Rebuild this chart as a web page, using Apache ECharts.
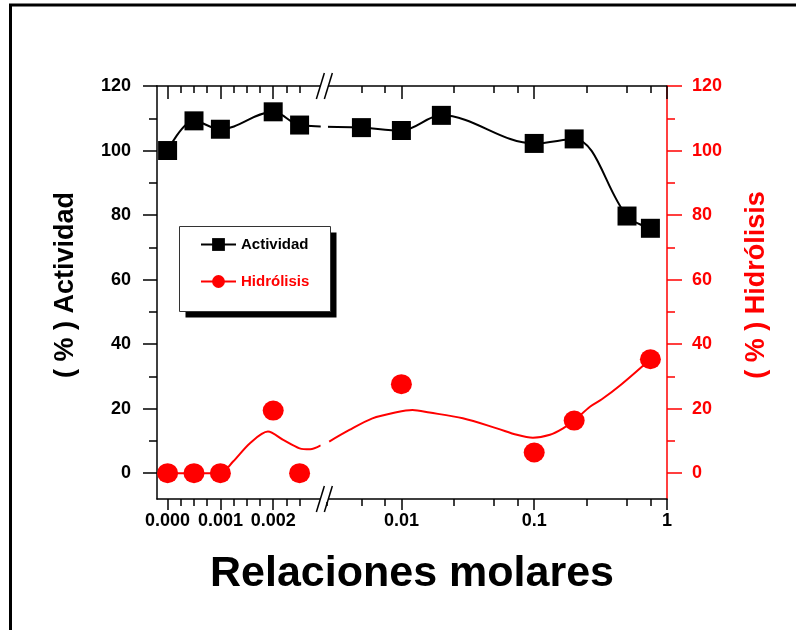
<!DOCTYPE html>
<html>
<head>
<meta charset="utf-8">
<script src="https://cdn.jsdelivr.net/npm/echarts@6/dist/echarts.min.js"></script>
<style>
  html, body { margin: 0; padding: 0; background: #fff; }
  #chart { width: 796px; height: 630px; }
</style>
</head>
<body>
<div id="chart"></div>
<script>
// Molar ratios tested and the measured responses
const ratios     = [0, 0.0005, 0.001, 0.002, 0.0025, 0.005, 0.01, 0.02, 0.1, 0.2, 0.5, 0.75];
const actividad  = [100, 109.2, 106.6, 112, 107.9, 107.1, 106.2, 110.9, 102.2, 103.6, 79.7, 75.9];
const hidrolisis = [0, 0, 0, 19.4, 0, null, 27.6, null, 6.4, 16.3, null, 35.3];

// Smoothed hydrolysis trend, one piece on each side of the axis break
const trendLinear = [[0, 0], [0.0005, 0], [0.001, 0], [0.00124, 3.6], [0.00156, 9.3], [0.0019, 12.9],
                     [0.00219, 10.3], [0.0025, 7.7], [0.0027, 7.4], [0.0029, 8.6]];
const trendLog = [[0.00286, 9.8], [0.00406, 13.4], [0.00605, 17.0], [0.00918, 18.9], [0.0121, 19.6],
                  [0.0163, 18.8], [0.029, 17.0], [0.0523, 13.9], [0.074, 11.9], [0.0978, 11.0],
                  [0.1315, 11.9], [0.165, 13.9], [0.2, 16.3], [0.263, 20.6], [0.323, 22.9],
                  [0.45, 27.4], [0.75, 35.3]];

// Axis ticks
const xMajorLabels = ['0.000', '0.001', '0.002', '0.01', '0.1', '1'];
const xMajorValues = [0, 0.001, 0.002, 0.01, 0.1, 1];
const xMinorValues = [0.00025, 0.0005, 0.00075, 0.00125, 0.0015, 0.00175, 0.00225, 0.0025, 0.00275,
                      0.005, 0.0075, 0.025, 0.05, 0.075, 0.25, 0.5, 0.75];
const yMajorValues = [0, 20, 40, 60, 80, 100, 120];
const yMinorValues = [10, 30, 50, 70, 90, 110];

// Broken x axis: a linear piece up to the break, then a log10 piece up to 1.
const AXIS_LEN = 510;
const LIN_OFFSET = 10.6, LIN_SCALE = 52800;   // linear piece
const DECADE = 132.8;                          // log piece, axis units per decade
const LIN_END = 0.0029, LOG_START = 0.0028;    // where each piece is cut at the break
function toAxis(x, piece) {
  piece = piece || (x <= 0.0025 ? 'lin' : 'log');
  return piece === 'lin' ? LIN_OFFSET + x * LIN_SCALE : AXIS_LEN + DECADE * Math.log10(x);
}
const xMajorPos = xMajorValues.map(v => toAxis(v));
const xMinorPos = xMinorValues.map(v => toAxis(v));
function xLabel(u) {
  let best = 0;
  xMajorPos.forEach((p, i) => { if (Math.abs(p - u) < Math.abs(xMajorPos[best] - u)) best = i; });
  return xMajorLabels[best];
}

const FONT = 'Liberation Sans, Arial, sans-serif';
const RED = '#ff0000';
const tickFont = { fontFamily: FONT, fontWeight: 'bold', fontSize: 18 };

const chart = echarts.init(document.getElementById('chart'), null, { renderer: 'canvas' });

function xAxisDef(position, values, len, inside, showLine, opts) {
  return Object.assign({
    type: 'value', position: position, min: 0, max: AXIS_LEN, gridIndex: 0, offset: 0,
    axisLine: { show: showLine, onZero: false, lineStyle: { color: '#000', width: 1.5 } },
    axisTick: { show: true, inside: inside, length: len, customValues: values, lineStyle: { color: '#000', width: 1.5 } },
    axisLabel: { show: false },
    splitLine: { show: false }
  }, opts || {});
}
function yAxisDef(position, values, len, color, showLine, opts) {
  return Object.assign({
    type: 'value', position: position, min: -8, max: 120, gridIndex: 0, offset: 0,
    axisLine: { show: showLine, onZero: false, lineStyle: { color: color, width: 1.5 } },
    axisTick: { show: true, inside: false, length: len, customValues: values, lineStyle: { color: color, width: 1.5 } },
    axisLabel: { show: false },
    splitLine: { show: false }
  }, opts || {});
}

const option = {
  backgroundColor: '#fff',
  animation: false,
  grid: { left: 157, top: 86, right: 129, bottom: 131, containLabel: false },
  xAxis: [
    xAxisDef('bottom', xMajorPos, 11, false, true, {
      axisLabel: Object.assign({ show: true, customValues: xMajorPos, margin: 13, color: '#000',
                                 formatter: v => xLabel(v) }, tickFont),
      name: 'Relaciones molares', nameLocation: 'middle', nameGap: 54,
      nameTextStyle: { fontFamily: FONT, fontWeight: 'bold', fontSize: 43, color: '#000' }
    }),
    xAxisDef('bottom', xMinorPos, 7, false, false),
    xAxisDef('top', xMajorPos, 13, true, true),
    xAxisDef('top', xMinorPos, 7, true, false)
  ],
  yAxis: [
    yAxisDef('left', yMajorValues, 14, '#000', true, {
      axisLabel: Object.assign({ show: true, customValues: yMajorValues, margin: 26, color: '#000' }, tickFont),
      name: '( % ) Actividad', nameLocation: 'middle', nameGap: 78, nameRotate: 90,
      nameTextStyle: { fontFamily: FONT, fontWeight: 'bold', fontSize: 27, color: '#000', padding: [0, 0, 0, 15] }
    }),
    yAxisDef('left', yMinorValues, 8, '#000', false),
    yAxisDef('right', yMajorValues, 15, RED, true, {
      axisLabel: Object.assign({ show: true, customValues: yMajorValues, margin: 25, color: RED }, tickFont),
      name: '( % ) Hidrólisis', nameLocation: 'middle', nameGap: 76, nameRotate: 90,
      nameTextStyle: { fontFamily: FONT, fontWeight: 'bold', fontSize: 27, color: RED, padding: [0, 0, 0, 15] }
    }),
    yAxisDef('right', yMinorValues, 8, RED, false)
  ],
  legend: {
    orient: 'vertical', left: 180, top: 227, z: 110,
    itemWidth: 35, itemHeight: 16, itemGap: 22,
    padding: [10, 21, 20, 20],
    textStyle: { fontFamily: FONT, fontWeight: 'bold', fontSize: 15, color: '#000' },
    data: [
      { name: 'Actividad' },
      { name: 'Hidrólisis', textStyle: { color: RED },
        lineStyle: { color: RED, width: 2, opacity: 1 } }
    ]
  },
  series: [
    {
      name: 'Actividad', type: 'line', xAxisIndex: 0, yAxisIndex: 0,
      data: ratios.map((r, i) => [toAxis(r), actividad[i]]),
      smooth: 0.35, symbol: 'rect', symbolSize: 19,
      itemStyle: { color: '#000' }, lineStyle: { color: '#000', width: 2 }, z: 4
    },
    {
      name: 'Hidrólisis', type: 'line', xAxisIndex: 0, yAxisIndex: 2,
      data: ratios.map((r, i) => [toAxis(r), hidrolisis[i]]).filter(d => d[1] !== null),
      symbol: 'circle', symbolSize: [21, 20],
      itemStyle: { color: RED }, lineStyle: { color: RED, width: 2, opacity: 0 }, z: 3
    },
    {
      name: 'trend-a', type: 'line', xAxisIndex: 0, yAxisIndex: 2, silent: true,
      data: trendLinear.map(d => [toAxis(d[0], 'lin'), d[1]]),
      smooth: 0.3, symbol: 'none', lineStyle: { color: RED, width: 2 }, z: 2
    },
    {
      name: 'trend-b', type: 'line', xAxisIndex: 0, yAxisIndex: 2, silent: true,
      data: trendLog.map(d => [toAxis(d[0], 'log'), d[1]]),
      smooth: 0.3, symbol: 'none', lineStyle: { color: RED, width: 2 }, z: 2
    }
  ]
};
chart.setOption(option);

// Axis break: blank strip between the two pieces, with "//" marks on both axes
const xa = chart.convertToPixel({ xAxisIndex: 0 }, toAxis(LIN_END, 'lin'));
const xb = chart.convertToPixel({ xAxisIndex: 0 }, toAxis(LOG_START, 'log'));
const yTop = chart.convertToPixel({ yAxisIndex: 0 }, 120);
const yBot = chart.convertToPixel({ yAxisIndex: 0 }, -8);
const xm = (xa + xb) / 2;
function slashes(yc) {
  return [-4, 4].map(dx => ({
    type: 'line', z: 101,
    shape: { x1: xm + dx - 4, y1: yc + 13, x2: xm + dx + 4, y2: yc - 13 },
    style: { stroke: '#000', lineWidth: 1.5 }
  }));
}
chart.setOption({
  graphic: [
    { type: 'rect', z: 100, shape: { x: xa, y: yTop - 3, width: xb - xa, height: yBot - yTop + 6 },
      style: { fill: '#fff' } },
    ...slashes(yTop), ...slashes(yBot),
    // legend frame with its drop shadow, drawn above the break strip
    { type: 'rect', z: 105, shape: { x: 185.5, y: 232.5, width: 151, height: 85 }, style: { fill: '#000' } },
    { type: 'rect', z: 106, shape: { x: 179.5, y: 226.5, width: 151, height: 85 },
      style: { fill: '#fff', stroke: '#333', lineWidth: 1 } },
    // outer frame
    { type: 'rect', z: 100, shape: { x: 10.5, y: 5, width: 1000, height: 1000 },
      style: { fill: 'none', stroke: '#000', lineWidth: 3 } }
  ]
});
</script>
</body>
</html>
